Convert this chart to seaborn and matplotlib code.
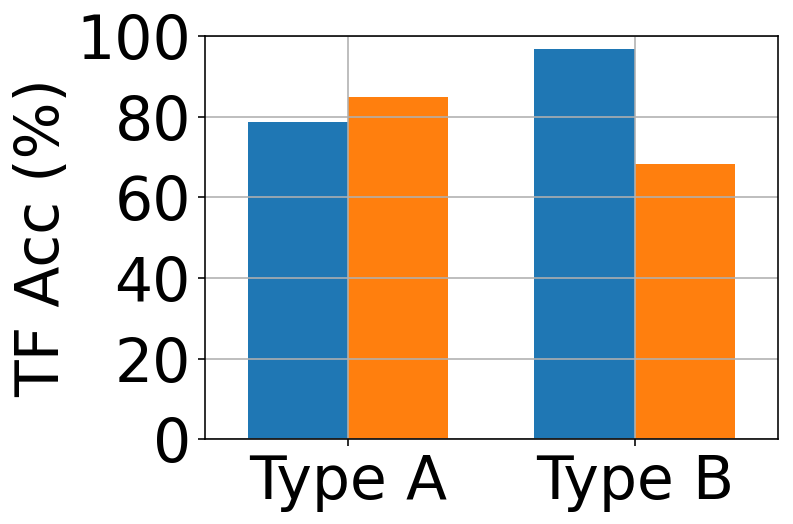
import pandas as pd
import matplotlib
matplotlib.use('Agg')
import matplotlib.pyplot as plt
import seaborn as sns

# values
categories = ['Type A', 'Type B']
series_names = ['Method 1', 'Method 2']
method1_acc = [78.7, 96.9]
method2_acc = [85.0, 68.3]
y_ticks = [0, 20, 40, 60, 80, 100]

df = pd.DataFrame({
    'type': categories * 2,
    'method': [series_names[0]] * 2 + [series_names[1]] * 2,
    'acc': method1_acc + method2_acc,
})

plt.rcParams['font.family'] = ['DejaVu Sans']
plt.rcParams['font.size'] = 30

fig = plt.figure(figsize=(793 / 144, 524 / 144), dpi=144)
ax = fig.add_axes([0.2585, 0.162, 0.7225, 0.769])

sns.barplot(data=df, x='type', y='acc', hue='method',
            palette=['#1f77b4', '#ff7f0e'], saturation=1, width=0.7,
            gap=0, linewidth=0, ax=ax, legend=False)

ax.set_ylim(0, 100)
ax.set_xlim(-0.5, 1.5)
ax.set_yticks(y_ticks)
ax.set_ylabel('TF Acc (%)', labelpad=2)
ax.set_xlabel('')
ax.grid(True, color='#b0b0b0', linewidth=0.8)
ax.tick_params(labelsize=30)

fig.savefig('out.png', dpi=144)
